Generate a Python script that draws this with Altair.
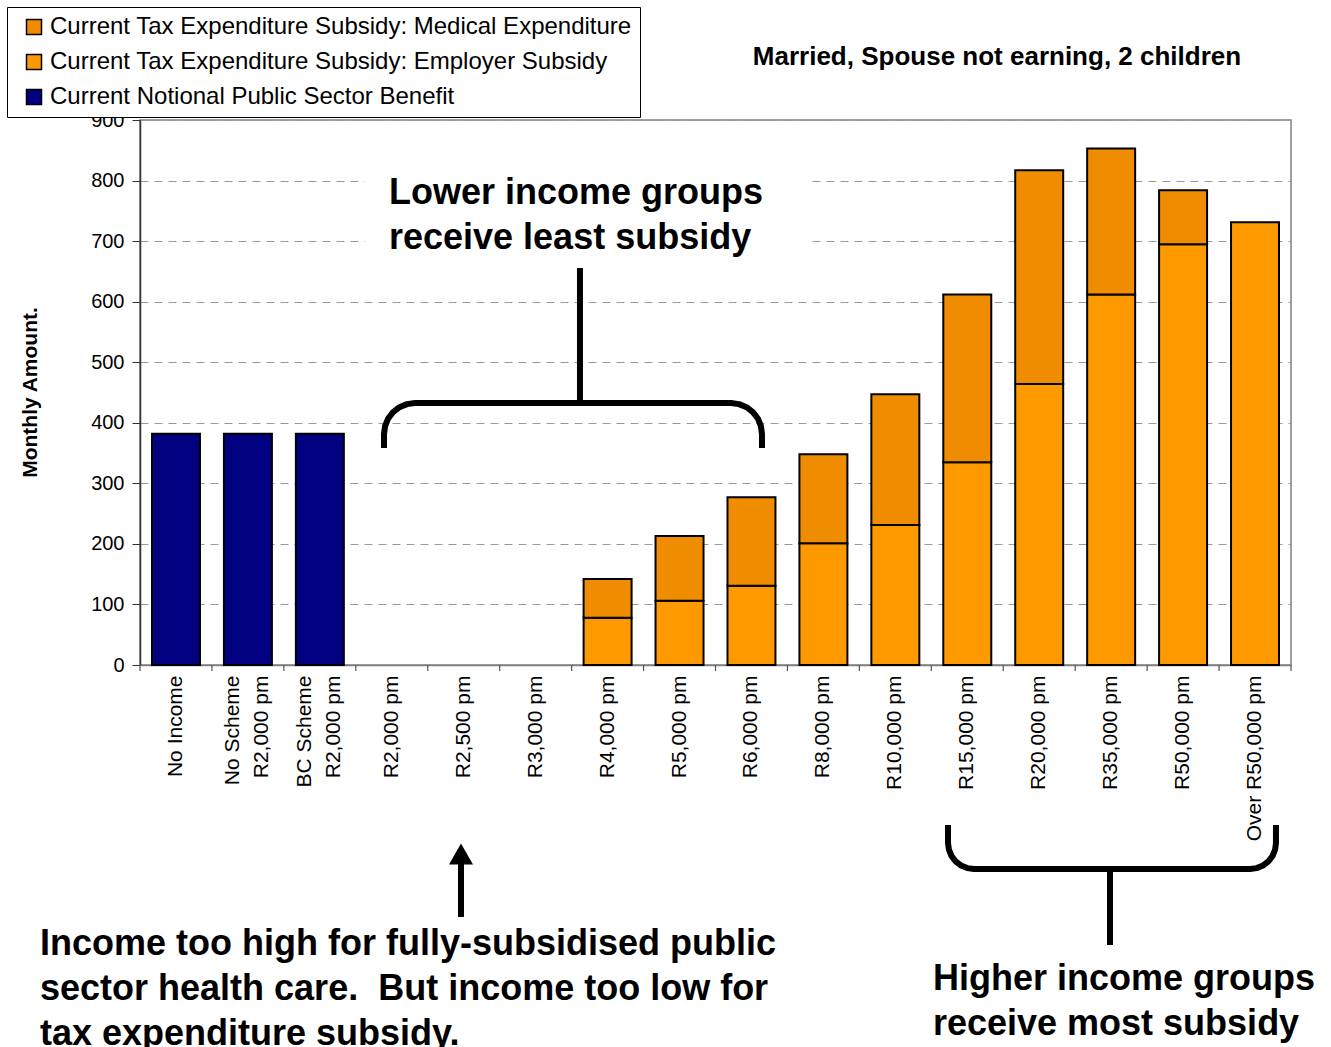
import altair as alt
import pandas as pd

# ---------------- data ----------------
categories = ["No Income", "No Scheme|R2,000 pm", "BC Scheme|R2,000 pm", "R2,000 pm", "R2,500 pm",
              "R3,000 pm", "R4,000 pm", "R5,000 pm", "R6,000 pm", "R8,000 pm", "R10,000 pm",
              "R15,000 pm", "R20,000 pm", "R35,000 pm", "R50,000 pm", "Over R50,000 pm"]
public_benefit = [382, 382, 382, 0, 0, 0, 0, 0, 0, 0, 0, 0, 0, 0, 0, 0]
employer_subsidy = [0, 0, 0, 0, 0, 0, 78, 106, 131, 201, 231, 335, 464, 612, 695, 731]
medical_subsidy = [0, 0, 0, 0, 0, 0, 64, 107, 146, 147, 216, 277, 353, 241, 89, 0]

series_names = ["Current Tax Expenditure Subsidy: Medical Expenditure",
                "Current Tax Expenditure Subsidy: Employer Subsidy",
                "Current Notional Public Sector Benefit"]
series_colors = ["#EF8C00", "#FF9900", "#000080"]

# annotation geometry in data units (x: category slot index 0..16, y: monthly amount)
brace_top_x = [3.392, 3.392, 3.407, 3.450, 3.518, 3.607, 3.711, 3.822,
               8.215, 8.327, 8.431, 8.520, 8.588, 8.631, 8.646, 8.646]
brace_top_y = [358.3, 381.5, 394.7, 407.1, 417.6, 425.7, 430.8, 432.7,
               432.7, 430.8, 425.7, 417.6, 407.1, 394.7, 381.5, 358.3]
stem_top_x = [6.116, 6.116]
stem_top_y = [655.6, 432.7]
brace_bot_x = [11.232, 11.232, 11.245, 11.281, 11.338, 11.413, 11.500, 11.593,
               15.430, 15.523, 15.611, 15.686, 15.743, 15.779, 15.791, 15.791]
brace_bot_y = [-264.2, -294.0, -305.0, -315.4, -324.3, -331.1, -335.4, -336.9,
               -336.9, -335.4, -331.1, -324.3, -315.4, -305.0, -294.0, -264.2]
stem_bot_x = [13.484, 13.484]
stem_bot_y = [-336.9, -462.4]
arrow_x = [4.462, 4.462]
arrow_y = [-416.1, -322.0]
arrow_head = (4.462, -312.1)

slot_edges = list(range(0, 17))

title_text = "Married, Spouse not earning, 2 children"
title_pos = (11.913, 990.8)
notes = [
    ("Lower income groups\nreceive least subsidy", 3.461, 761.3),
    ("Income too high for fully-subsidised public\nsector health care.\u00a0 But income too low for\ntax expenditure subsidy.", -1.390, -478.9),
    ("Higher income groups\nreceive most subsidy", 11.023, -536.7),
]
mask = (3.128, 9.286, 817.4, 677.1)

# ---------------- tables ----------------
rows = []
for i, c in enumerate(categories):
    for name, vals, order in [(series_names[2], public_benefit, 0),
                              (series_names[1], employer_subsidy, 1),
                              (series_names[0], medical_subsidy, 2)]:
        rows.append({"category": c, "series": name, "value": vals[i], "stack_order": order})
bars_df = pd.DataFrame(rows)

line_rows = []
for seg, xs, ys in [("brace_top", brace_top_x, brace_top_y), ("stem_top", stem_top_x, stem_top_y),
                    ("brace_bot", brace_bot_x, brace_bot_y), ("stem_bot", stem_bot_x, stem_bot_y),
                    ("arrow", arrow_x, arrow_y)]:
    for k, (a, b) in enumerate(zip(xs, ys)):
        line_rows.append({"seg": seg, "idx": k, "ax": a, "ay": b})
lines_df = pd.DataFrame(line_rows)

ticks_df = pd.DataFrame({"ax": slot_edges, "ay": [0] * len(slot_edges), "ay2": [-10] * len(slot_edges)})
head_df = pd.DataFrame({"ax": [arrow_head[0]], "ay": [arrow_head[1]]})
title_df = pd.DataFrame({"ax": [title_pos[0]], "ay": [title_pos[1]], "t": [title_text]})
notes_df = pd.DataFrame({"t": [n[0] for n in notes], "ax": [n[1] for n in notes], "ay": [n[2] for n in notes]})
mask_df = pd.DataFrame({"ax": [mask[0]], "ax2": [mask[1]], "ay": [mask[2]], "ay2": [mask[3]]})

FONT = "Liberation Sans"
W, H = 1151, 545

yscale = alt.Scale(domain=[0, 900], nice=False, zero=False)
hx = alt.X("ax:Q", scale=alt.Scale(domain=[0, 16], nice=False, zero=False), axis=None)
hy = alt.Y("ay:Q", scale=alt.Scale(domain=[0, 900], nice=False, zero=False), axis=None)

bars = alt.Chart(bars_df).transform_filter("datum.value > 0").mark_bar(
    stroke="black", strokeWidth=2
).encode(
    x=alt.X("category:N", sort=categories,
            scale=alt.Scale(domain=categories, paddingInner=0.333, paddingOuter=0.1667),
            axis=alt.Axis(title=None, labelAngle=-90, labelExpr="split(datum.label, '|')",
                          labelFontSize=21, labelLineHeight=29, labelFont=FONT, labelColor="black",
                          labelOffset={"condition": {"test": "indexof(datum.value, '|') >= 0", "value": -15},
                                       "value": 0},
                          ticks=False, tickSize=0, labelPadding=10, domainColor="#808080",
                          domainWidth=1.5, grid=False, labelLimit=300)),
    y=alt.Y("value:Q", stack="zero", scale=yscale,
            axis=alt.Axis(title="Monthly Amount.", values=list(range(0, 901, 100)), grid=True,
                          gridDash=[8, 6], gridColor="#999999", gridWidth=1, tickSize=8,
                          tickColor="#333333", domainColor="#333333", domainWidth=1.5,
                          labelFontSize=20, labelFont=FONT, labelColor="black", labelPadding=8,
                          titleFontSize=21, titleFont=FONT, titleFontWeight="bold", titleColor="black",
                          titleX=-110, titleY=272, titleAngle=-90, titleAlign="center",
                          titleBaseline="middle")),
    color=alt.Color("series:N", scale=alt.Scale(domain=series_names, range=series_colors),
                    legend=alt.Legend(title=None, orient="none", legendX=-133, legendY=-113,
                                      symbolType="square", symbolSize=225, symbolStrokeColor="black",
                                      symbolStrokeWidth=1.5, labelFontSize=24, labelFont=FONT,
                                      labelColor="black", labelLimit=900, strokeColor="black",
                                      fillColor="white", padding=8, rowPadding=11, symbolOffset=7,
                                      labelOffset=4)),
    order=alt.Order("stack_order:Q"),
)

mask_layer = alt.Chart(mask_df).mark_rect(color="white").encode(
    x=hx, x2="ax2:Q", y=hy, y2="ay2:Q")

ticks_layer = alt.Chart(ticks_df).mark_rule(color="#555555", strokeWidth=1.2).encode(
    x=hx, y=hy, y2="ay2:Q")

lines_layer = alt.Chart(lines_df).mark_line(color="black", strokeWidth=6, strokeJoin="round").encode(
    x=hx, y=hy, detail="seg:N", order="idx:Q")

head_layer = alt.Chart(head_df).mark_point(shape="triangle-up", filled=True, color="black",
                                           size=576, opacity=1).encode(x=hx, y=hy)

title_layer = alt.Chart(title_df).mark_text(align="center", baseline="alphabetic", fontSize=26,
                                            fontWeight="bold", font=FONT, color="black").encode(
    x=hx, y=hy, text="t:N")

notes_layer = alt.Chart(notes_df).mark_text(align="left", baseline="alphabetic", fontSize=36,
                                            fontWeight="bold", font=FONT, color="black",
                                            lineBreak="\n", lineHeight=45).encode(
    x=hx, y=hy, text="t:N")

chart = alt.layer(
    bars, mask_layer, ticks_layer, lines_layer, head_layer, title_layer, notes_layer
).resolve_scale(x="independent", y="independent").properties(
    width=W, height=H,
    autosize=alt.AutoSizeParams(type="none"),
    padding={"left": 140, "top": 120, "right": 40, "bottom": 382},
    background="white",
).configure_view(stroke="#808080", strokeWidth=1.5)

chart.save("out.html", embed_options={"renderer": "svg", "actions": False})
